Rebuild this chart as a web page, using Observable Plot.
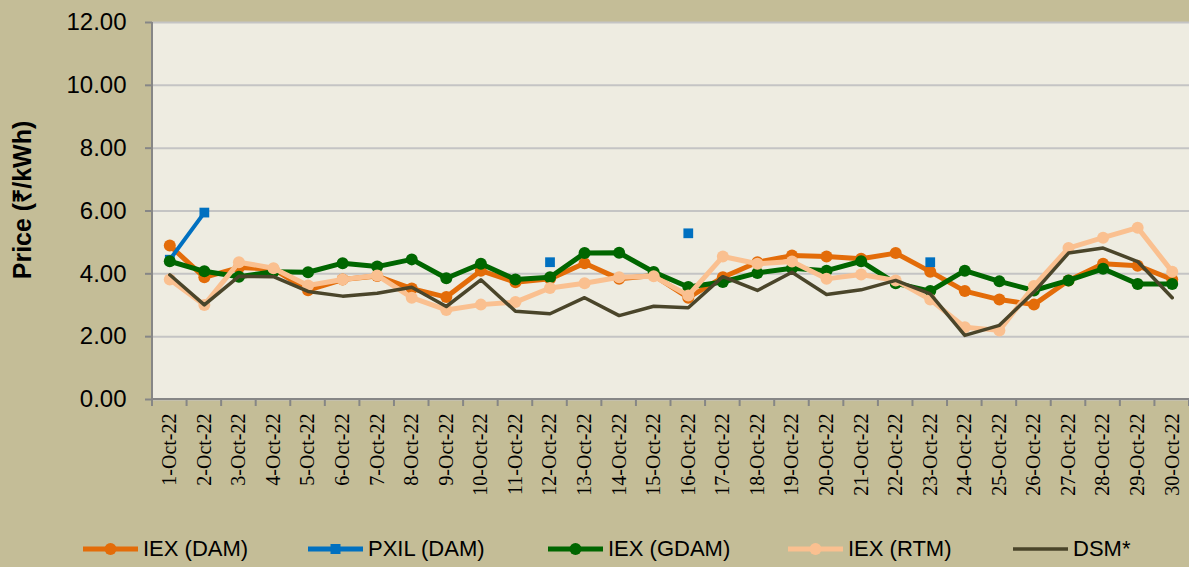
<!DOCTYPE html>
<html><head><meta charset="utf-8">
<script src="https://cdn.jsdelivr.net/npm/d3@7"></script>
<script src="https://cdn.jsdelivr.net/npm/@observablehq/plot@0.6"></script>
<style>
body{margin:0;background:#C4BD97;width:1189px;height:567px;overflow:hidden;}
#legend{position:relative;height:37px;font-family:"Liberation Sans",Arial,sans-serif;font-size:22px;color:#000;}
.item{position:absolute;top:0;height:37px;display:flex;align-items:center;white-space:nowrap;}
.item svg{margin-right:5px;}
</style></head><body><div id="chart"></div><div id="legend"></div>
<script>
const dates = ["1-Oct-22","2-Oct-22","3-Oct-22","4-Oct-22","5-Oct-22","6-Oct-22","7-Oct-22","8-Oct-22","9-Oct-22","10-Oct-22",
  "11-Oct-22","12-Oct-22","13-Oct-22","14-Oct-22","15-Oct-22","16-Oct-22","17-Oct-22","18-Oct-22","19-Oct-22","20-Oct-22",
  "21-Oct-22","22-Oct-22","23-Oct-22","24-Oct-22","25-Oct-22","26-Oct-22","27-Oct-22","28-Oct-22","29-Oct-22","30-Oct-22"];
const iexDam  = [4.90,3.89,4.20,4.15,3.48,3.82,3.93,3.53,3.26,4.10, 3.73,3.84,4.34,3.84,3.95,3.24,3.89,4.37,4.58,4.55, 4.48,4.66,4.07,3.45,3.18,3.02,3.79,4.32,4.26,3.82];
const pxilDam = [4.45,5.95,null,null,null,null,null,null,null,null, null,4.37,null,null,null,5.29,null,null,null,null, null,null,4.37,null,null,null,null,null,null,null];
const iexGdam = [4.40,4.08,3.91,4.07,4.05,4.34,4.23,4.46,3.86,4.32, 3.82,3.89,4.66,4.67,4.06,3.58,3.74,4.03,4.18,4.10, 4.40,3.70,3.45,4.10,3.76,3.47,3.79,4.16,3.68,3.68];
const iexRtm  = [3.82,3.01,4.37,4.18,3.63,3.82,3.95,3.24,2.85,3.02, 3.10,3.55,3.70,3.89,3.92,3.31,4.55,4.32,4.39,3.84, 3.98,3.79,3.18,2.30,2.20,3.61,4.82,5.15,5.47,4.07];
const dsm     = [3.97,3.01,3.92,3.91,3.44,3.29,3.38,3.57,2.96,3.81, 2.81,2.73,3.24,2.67,2.97,2.92,3.91,3.47,4.05,3.34, 3.49,3.79,3.36,2.04,2.36,3.42,4.66,4.82,4.39,3.24];
const yTicks = [0,2,4,6,8,10,12];
const seriesNames = ["IEX (DAM)","PXIL (DAM)","IEX (GDAM)","IEX (RTM)","DSM*"];
const seriesColors = ["#E36C09","#0070C0","#006600","#FAC090","#4A452A"];

const rows = arr => dates.map((d,i)=>({date:d, value:arr[i]}));
const dDam = rows(iexDam), dPxil = rows(pxilDam), dGdam = rows(iexGdam), dRtm = rows(iexRtm), dDsm = rows(dsm);

function frameAxes(index, scales, values, dims) {
  const x = scales.x;
  const step = x(dates[1]) - x(dates[0]);
  const y0 = dims.height - dims.marginBottom;
  const left = dims.marginLeft, right = dims.width - dims.marginRight;
  const g = d3.create("svg:g");
  const xs = dates.map(d => x(d) - step/2).concat([x(dates[dates.length-1]) + step/2]);
  g.selectAll("line.t").data(xs).join("line").attr("class","t")
    .attr("x1",d=>d).attr("x2",d=>d).attr("y1",y0).attr("y2",y0+7)
    .attr("stroke","#868686").attr("stroke-width",2);
  g.append("line").attr("x1",left).attr("x2",right).attr("y1",y0).attr("y2",y0).attr("stroke","#868686").attr("stroke-width",2);
  g.append("line").attr("x1",left).attr("x2",left).attr("y1",dims.marginTop).attr("y2",y0).attr("stroke","#868686").attr("stroke-width",2);
  return g.node();
}

const plot = Plot.plot({
  width:1189, height:530,
  marginLeft:152, marginRight:0, marginTop:22, marginBottom:131,
  style:{background:"transparent", fontFamily:"Liberation Sans, Arial, sans-serif", color:"#000", overflow:"visible"},
  x:{type:"point", domain:dates, padding:0.5, round:false},
  y:{domain:[0,12]},
  marks:[
    Plot.frame({fill:"#EEECE1", stroke:null}),
    Plot.gridY(yTicks, {stroke:"#C4C4C4", strokeWidth:2, strokeOpacity:1}),
    Plot.axisY(yTicks, {tickFormat:d=>d.toFixed(2), tickSize:7, tickPadding:19, fontSize:24, stroke:"#868686", strokeWidth:2, label:null}),
    Plot.axisX({tickSize:0, tickPadding:14, tickRotate:-90, fontSize:20, fontFamily:"Liberation Serif, Times New Roman, serif", label:null}),
    frameAxes,
    Plot.line(dDam, {x:"date", y:"value", stroke:seriesColors[0], strokeWidth:5}),
    Plot.dot(dDam, {x:"date", y:"value", fill:seriesColors[0], r:6}),
    Plot.line(dPxil, {x:"date", y:"value", stroke:seriesColors[1], strokeWidth:4}),
    Plot.dot(dPxil, {x:"date", y:"value", fill:seriesColors[1], symbol:"square", r:5.5}),
    Plot.line(dGdam, {x:"date", y:"value", stroke:seriesColors[2], strokeWidth:5}),
    Plot.dot(dGdam, {x:"date", y:"value", fill:seriesColors[2], r:6}),
    Plot.line(dRtm, {x:"date", y:"value", stroke:seriesColors[3], strokeWidth:5}),
    Plot.dot(dRtm, {x:"date", y:"value", fill:seriesColors[3], r:6}),
    Plot.line(dDsm, {x:"date", y:"value", stroke:seriesColors[4], strokeWidth:3.5})
  ]
});
document.getElementById("chart").appendChild(plot);
d3.select(plot).append("text")
  .attr("transform","translate(22,200) rotate(-90)")
  .attr("text-anchor","middle").attr("dominant-baseline","central")
  .attr("font-family","Liberation Sans, Arial, sans-serif").attr("font-weight","bold").attr("font-size",25)
  .text("Price (₹/kWh)");

const legendLeft = [83,308,548,788,1013];
const markers = ["circle","square","circle","circle",null];
const legend = d3.select("#legend");
seriesNames.forEach((name,i)=>{
  const item = legend.append("div").attr("class","item").style("left",legendLeft[i]+"px");
  const s = item.append("svg").attr("width",55).attr("height",14);
  s.append("line").attr("x1",0).attr("x2",55).attr("y1",7).attr("y2",7).attr("stroke",seriesColors[i]).attr("stroke-width",i===4?3.5:5);
  if (markers[i]==="circle") s.append("circle").attr("cx",27.5).attr("cy",7).attr("r",6).attr("fill",seriesColors[i]);
  if (markers[i]==="square") s.append("rect").attr("x",22.5).attr("y",2).attr("width",10).attr("height",10).attr("fill",seriesColors[i]);
  item.append("span").text(name);
});
</script></body></html>
